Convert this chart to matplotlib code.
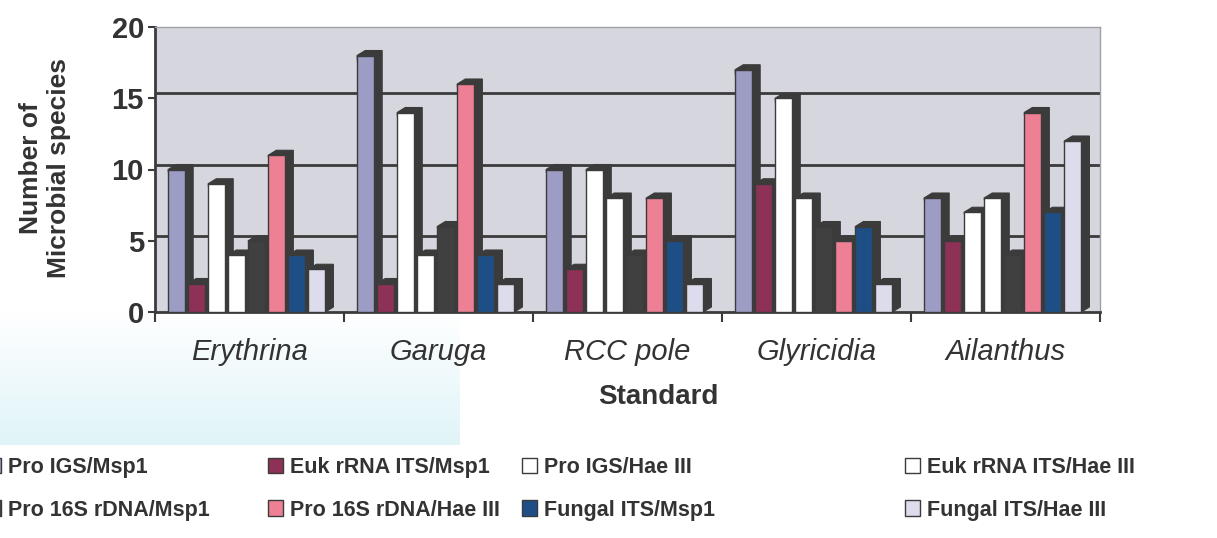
import numpy as np
import matplotlib
matplotlib.use("Agg")
from matplotlib import pyplot as plt
from matplotlib.patches import Polygon
from matplotlib.colors import LinearSegmentedColormap

plt.rcParams["font.family"] = ["Liberation Sans", "DejaVu Sans"]

sites = ["Erythrina", "Garuga", "RCC pole", "Glyricidia", "Ailanthus"]

pro_igs_msp1 = [10, 18, 10, 17, 8]
euk_its_msp1 = [2, 2, 3, 9, 5]
pro_igs_hae3 = [9, 14, 10, 15, 7]
euk_its_hae3 = [4, 4, 8, 8, 8]
pro_16s_msp1 = [5, 6, 4, 6, 4]
pro_16s_hae3 = [11, 16, 8, 5, 14]
fungal_its_msp1 = [4, 4, 5, 6, 7]
fungal_its_hae3 = [3, 2, 2, 2, 12]

series_labels = [
    "Pro IGS/Msp1", "Euk rRNA ITS/Msp1", "Pro IGS/Hae III", "Euk rRNA ITS/Hae III",
    "Pro 16S rDNA/Msp1", "Pro 16S rDNA/Hae III", "Fungal ITS/Msp1", "Fungal ITS/Hae III",
]
series_values = [
    pro_igs_msp1, euk_its_msp1, pro_igs_hae3, euk_its_hae3,
    pro_16s_msp1, pro_16s_hae3, fungal_its_msp1, fungal_its_hae3,
]
series_colors = [
    "#9c9cc4", "#8e3157", "#ffffff", "#ffffff",
    "#404040", "#ee8096", "#1d4f86", "#dcdcec",
]
yticks = [0, 5, 10, 15, 20]


def main() -> None:
    W, H = 1217, 538
    fig = plt.figure(figsize=(W / 100, H / 100), dpi=100)

    # faint cyan tint of the scan, bottom left
    tint = fig.add_axes([0, 1 - 445 / H, 460 / W, 135 / H], zorder=0)
    grad = np.linspace(0, 1, 64)[:, None]
    tint.imshow(grad, aspect="auto",
                cmap=LinearSegmentedColormap.from_list("tint", ["#ffffff", "#e0f4f8"]))
    tint.axis("off")

    ax = fig.add_axes([155 / W, 1 - 312 / H, 945 / W, 285 / H], zorder=2)
    ax.set_facecolor("#d6d6de")
    side = "#3b3b3b"

    pitch, width = 0.106, 0.09
    dx, dy = 0.043, 0.35
    x = np.arange(len(sites))

    for t in yticks[1:-1]:
        ax.axhline(t + dy, color=side, lw=2, zorder=1)

    for j, (label, vals, color) in enumerate(zip(series_labels, series_values, series_colors)):
        left = x - 0.431 + j * pitch
        for xl, v in zip(left, vals):
            pts = [(xl, v), (xl + dx, v + dy), (xl + width + dx, v + dy),
                   (xl + width + dx, dy), (xl + width, 0)]
            ax.add_patch(Polygon(pts, closed=True, fc=side, ec=side, lw=0.8, zorder=3))
        ax.bar(left, vals, width, align="edge", color=color, edgecolor=side,
               lw=1, zorder=4, label=label)

    ax.set_xlim(-0.5, len(sites) - 0.5)
    ax.set_ylim(0, 20)

    ax.set_xticks(np.arange(-0.5, len(sites), 1))
    ax.set_xticklabels([])
    ax.set_xticks(x, sites, minor=True)
    ax.tick_params(axis="x", which="major", length=7, width=1.5, color=side)
    ax.tick_params(axis="x", which="minor", length=0, pad=19, labelsize=21, labelcolor="#333333")
    for lab in ax.get_xticklabels(minor=True):
        lab.set_fontstyle("italic")

    ax.set_yticks(yticks)
    ax.tick_params(axis="y", length=5, width=1.5, color=side, pad=3,
                   labelsize=21, labelcolor="#333333")
    for lab in ax.get_yticklabels():
        lab.set_fontweight("bold")

    for s in ["left", "bottom"]:
        ax.spines[s].set_color(side)
        ax.spines[s].set_linewidth(2)
    for s in ["top", "right"]:
        ax.spines[s].set_color("#a0a0a8")
        ax.spines[s].set_linewidth(1)

    fig.text(45 / W, 1 - 168 / H, "Number of\nMicrobial species", rotation=90,
             ha="center", va="center", fontsize=19, fontweight="bold",
             color="#333333", linespacing=1.25)
    fig.text(658 / W, 1 - 397 / H, "Standard", ha="center", va="center",
             fontsize=20, fontweight="bold", color="#333333")

    handles, labels = ax.get_legend_handles_labels()
    col_x = [-14, 268, 522, 905]
    for c, cx in enumerate(col_x):
        leg = fig.legend([handles[c], handles[c + 4]], [labels[c], labels[c + 4]],
                         loc="upper left", bbox_to_anchor=(cx / W, 1 - 457 / H),
                         frameon=False, borderpad=0, borderaxespad=0,
                         handlelength=0.7, handleheight=0.7, handletextpad=0.3,
                         labelspacing=1.0,
                         prop={"family": ["Liberation Sans Narrow", "Liberation Sans"],
                               "weight": "bold", "size": 15.5})
        for txt in leg.get_texts():
            txt.set_color("#333333")

    fig.savefig("out.png", dpi=100)
    plt.close(fig)


if __name__ == "__main__":
    main()
